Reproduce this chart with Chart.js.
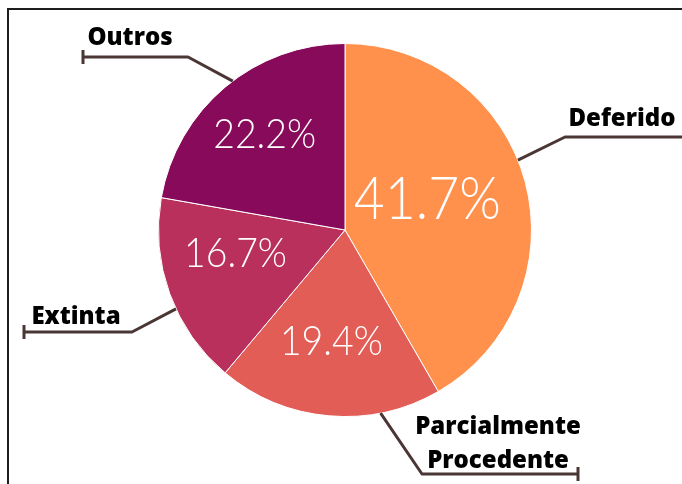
<!DOCTYPE html>
<html>
<head>
<meta charset="utf-8">
<script src="https://cdn.jsdelivr.net/npm/chart.js@4"></script>
<style>
	html, body { margin: 0; padding: 0; background: #fff; }
	#wrap { width: 682px; height: 484px; position: relative; }
</style>
</head>
<body>
<div id="wrap"><canvas id="pieChart" width="682" height="484"></canvas></div>
<script>
// data (36 cases total)
var categories = ['Deferido', 'Parcialmente Procedente', 'Extinta', 'Outros'];
var counts = [15, 7, 6, 8];
var sliceColors = ['#ff914d', '#e35d57', '#b9305c', '#870b5a'];

// callout layout, one entry per slice
var labelLines = [['Deferido'], ['Parcialmente', 'Procedente'], ['Extinta'], ['Outros']];
var pctRadius = [0.47, 0.6, 0.6, 0.67];
var pctAngleShift = [-5, 2, 8, 0];
var pctFontSize = [60, 42, 42, 42];
var leaderAnchorDeg = [68, 169, 245, 323];
var leaderElbow = [[565, 137], [422, 474], [132, 332], [188, 57]];
var leaderEndX = [684, 578, 24, 83];
var labelPos = [[622, 119], [498, 427], [76, 317], [130, 38]];

var total = counts.reduce(function(a, b) { return a + b; }, 0);

function toXY(arc, deg, r) {
	var a = (deg - 90) * Math.PI / 180;
	return [arc.x + Math.cos(a) * r, arc.y + Math.sin(a) * r];
}

var calloutPlugin = {
	id: 'callouts',
	afterDraw: function(chart) {
		var ctx = chart.ctx;
		var arcs = chart.getDatasetMeta(0).data;

		ctx.save();
		// outer frame
		ctx.strokeStyle = '#1e1e1e';
		ctx.lineWidth = 2;
		ctx.strokeRect(8, 9, 700, 500);

		arcs.forEach(function(arc, i) {
			var startDeg = arc.startAngle * 180 / Math.PI + 90;
			var endDeg = arc.endAngle * 180 / Math.PI + 90;
			var mid = (startDeg + endDeg) / 2 + pctAngleShift[i];
			var p = toXY(arc, mid, arc.outerRadius * pctRadius[i]);

			// percentage, slightly condensed to mimic the geometric face
			ctx.save();
			ctx.translate(p[0], p[1]);
			ctx.scale(0.89, 1);
			ctx.fillStyle = '#ffffff';
			ctx.font = '300 ' + pctFontSize[i] + 'px Lato, "Open Sans", sans-serif';
			ctx.textAlign = 'center';
			ctx.textBaseline = 'middle';
			ctx.fillText((counts[i] / total * 100).toFixed(1) + '%', 0, 0);
			ctx.restore();

			// leader line
			var a = toXY(arc, leaderAnchorDeg[i], arc.outerRadius);
			var e = leaderElbow[i];
			ctx.strokeStyle = '#4b3636';
			ctx.lineWidth = 3;
			ctx.lineJoin = 'round';
			ctx.beginPath();
			ctx.moveTo(a[0], a[1]);
			ctx.lineTo(e[0], e[1]);
			ctx.lineTo(leaderEndX[i], e[1]);
			ctx.stroke();
			ctx.beginPath();
			ctx.moveTo(leaderEndX[i], e[1] - 7);
			ctx.lineTo(leaderEndX[i], e[1] + 7);
			ctx.stroke();

			// category label
			ctx.fillStyle = '#000000';
			ctx.font = '800 24px "Open Sans", sans-serif';
			ctx.textAlign = 'center';
			ctx.textBaseline = 'middle';
			labelLines[i].forEach(function(t, k) {
				ctx.fillText(t, labelPos[i][0], labelPos[i][1] + k * 34);
			});
		});
		ctx.restore();
	}
};

// eslint-disable-next-line no-undef
var chart = new Chart(document.getElementById('pieChart'), {
	type: 'pie',
	data: {
		labels: categories,
		datasets: [{
			data: counts,
			backgroundColor: sliceColors,
			borderColor: '#ffffff',
			borderWidth: 1
		}]
	},
	options: {
		responsive: false,
		animation: false,
		layout: {
			padding: { left: 158, right: 150, top: 43, bottom: 67 }
		},
		plugins: {
			legend: { display: false },
			tooltip: { enabled: false }
		}
	},
	plugins: [calloutPlugin]
});
</script>
</body>
</html>
